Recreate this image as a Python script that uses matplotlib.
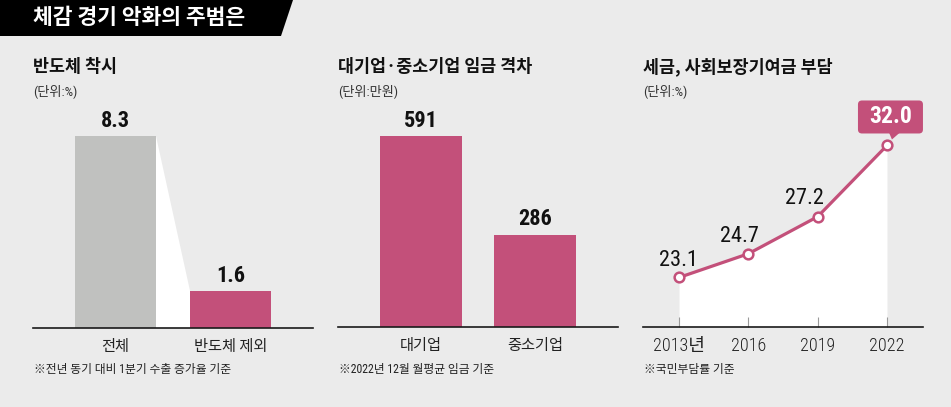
import matplotlib
matplotlib.use('Agg')
import matplotlib.pyplot as plt
from matplotlib.patches import Polygon, FancyBboxPatch
from matplotlib.transforms import Affine2D

W, H = 951, 407
BG = '#ebebeb'
PINK = '#c3507a'
GRAY = '#c0c1bf'
KR = ['Noto Sans CJK KR', 'DejaVu Sans']
NUM = ['Roboto Condensed', 'Noto Sans CJK KR', 'DejaVu Sans']

main_title = '체감 경기 악화의 주범은'

p1_title = '반도체 착시'
p1_unit = '(단위:%)'
p1_cats = ['전체', '반도체 제외']
p1_vals = [8.3, 1.6]
p1_note = '※전년 동기 대비 1분기 수출 증가율 기준'

p2_title = '대기업·중소기업 임금 격차'
p2_unit = '(단위:만원)'
p2_cats = ['대기업', '중소기업']
p2_vals = [591, 286]
p2_note = '※2022년 12월 월평균 임금 기준'

p3_title = '세금, 사회보장기여금 부담'
p3_unit = '(단위:%)'
p3_years = ['2013년', '2016', '2019', '2022']
p3_vals = [23.1, 24.7, 27.2, 32.0]
p3_note = '※국민부담률 기준'

plt.rcParams['font.family'] = KR

fig = plt.figure(figsize=(W / 100, H / 100), dpi=100, facecolor=BG)


def px_rect(x0, y0, x1, y1):
    return [x0 / W, 1 - y1 / H, (x1 - x0) / W, (y1 - y0) / H]


def ftext(x, y, s, **kw):
    return fig.text(x / W, 1 - y / H, s, **kw)


# title bar
bar = Polygon([(0, 1), (293 / W, 1), (281 / W, 1 - 36 / H), (0, 1 - 36 / H)],
              closed=True, transform=fig.transFigure, fc='black', ec='none')
fig.add_artist(bar)
ftext(33, 18, main_title, color='white', fontsize=15.5, fontweight='bold',
      va='center', ha='left', family=KR)


def setup(ax):
    ax.set_facecolor('none')
    for s in ['top', 'right', 'left']:
        ax.spines[s].set_visible(False)
    ax.spines['bottom'].set_color('#1a1a1a')
    ax.spines['bottom'].set_linewidth(1.2)
    ax.set_yticks([])
    ax.tick_params(axis='x', length=0, pad=7, labelsize=11, labelcolor='#222222')


# headers
for x, t, u, n in [(33, p1_title, p1_unit, p1_note),
                   (338, p2_title, p2_unit, p2_note),
                   (643, p3_title, p3_unit, p3_note)]:
    ftext(x, 67, t, fontsize=12.5, fontweight='bold', color='#111111', va='center', family=KR)
    ftext(x, 91, u, fontsize=9.5, color='#333333', va='center', family=NUM)
    ftext(x + 1, 370, n, fontsize=8.5, color='#222222', va='center', family=NUM)

# panel 1
ax1 = fig.add_axes(px_rect(33, 100, 313, 328))
setup(ax1)
w1 = 0.704
x1 = list(range(len(p1_vals)))
ax1.set_xlim(-0.717, 1.717)
ax1.set_ylim(0, 8.3 * 228 / 192)
ax1.fill([x1[0] + w1 / 2, x1[1] - w1 / 2, x1[1] - w1 / 2, x1[0] + w1 / 2],
         [p1_vals[0], p1_vals[1], 0, 0], color='white', lw=0, zorder=1)
ax1.bar(x1, p1_vals, width=w1, color=[GRAY, PINK], zorder=2)
ax1.set_xticks(x1, p1_cats)
for i, v in enumerate(p1_vals):
    ax1.annotate(f'{v}', xy=(i, v), xytext=(0, 6.8), textcoords='offset points',
                 ha='center', va='baseline', fontsize=16, fontweight='bold',
                 color='#111111', family=NUM)

# panel 2
ax2 = fig.add_axes(px_rect(338, 100, 618, 327))
setup(ax2)
w2 = 0.72
x2 = list(range(len(p2_vals)))
ax2.set_xlim(-0.728, 1.728)
ax2.set_ylim(0, 591 * 227 / 191)
ax2.bar(x2, p2_vals, width=w2, color=PINK, zorder=2)
ax2.set_xticks(x2, p2_cats)
for i, v in enumerate(p2_vals):
    ax2.annotate(f'{v}', xy=(i, v), xytext=(0, 6.8), textcoords='offset points',
                 ha='center', va='baseline', fontsize=16, fontweight='bold',
                 color='#111111', family=NUM)

# panel 3
ax3 = fig.add_axes(px_rect(643, 100, 923, 327))
setup(ax3)
ymin3 = 19.76
x3 = list(range(len(p3_vals)))
ax3.set_xlim(-0.52, 3.52)
ax3.set_ylim(ymin3, ymin3 + 227 / 14.83)
ax3.fill_between(x3, p3_vals, ymin3, color='white', lw=0, zorder=1)
ax3.plot(x3, p3_vals, color=PINK, lw=2.3, marker='o', ms=7, mfc='white',
         mec=PINK, mew=1.8, zorder=3, clip_on=False)
ax3.set_xticks(x3, p3_years)
ax3.tick_params(axis='x', direction='in', length=7, width=0.8, color='#9a9a9a',
                labelsize=13)
for lab in ax3.get_xticklabels():
    lab.set_family(NUM)
    lab.set_fontweight('light')
offs = [(-0.7, 8.6), (-6.5, 8.6), (-9.4, 9.4)]
for i in range(3):
    ax3.annotate(f'{p3_vals[i]}', xy=(i, p3_vals[i]), xytext=offs[i],
                 textcoords='offset points', ha='center', va='baseline',
                 fontsize=16, fontweight='normal', color='#111111', family=NUM)

# highlight callout for the last value
fig.canvas.draw()
px, py = ax3.transData.transform((x3[-1], p3_vals[-1]))
T = Affine2D().translate(px, py)
box = FancyBboxPatch((-29, 12), 65, 33, boxstyle='round,pad=0,rounding_size=4',
                     transform=T, fc=PINK, ec='none')
fig.add_artist(box)
tail = Polygon([(2, 13), (13, 13), (5, 6)], closed=True, transform=T, fc=PINK, ec='none')
fig.add_artist(tail)
fig.text(3.5, 28.5, f'{p3_vals[-1]:.1f}', transform=T, ha='center', va='center',
         fontsize=17, fontweight='bold', color='white', family=NUM)

fig.savefig('out.png', dpi=100, facecolor=BG)
